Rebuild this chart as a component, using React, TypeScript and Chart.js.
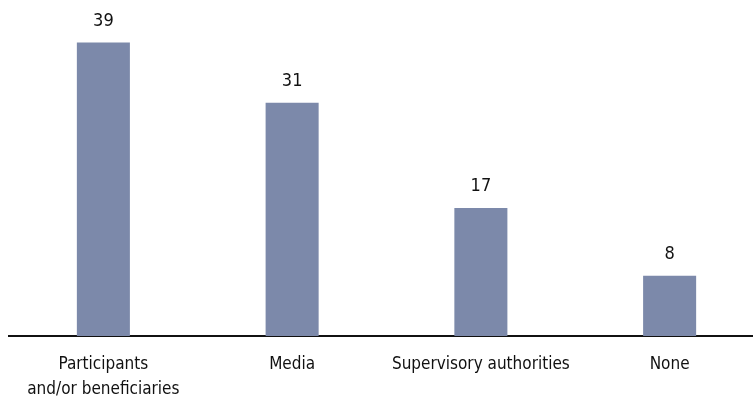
import React, { useEffect, useRef } from "react";
import { Chart, registerables } from "chart.js";

Chart.register(...registerables);

const categories: (string | string[])[] = [
  ["Participants", "and/or beneficiaries"],
  "Media",
  "Supervisory authorities",
  "None",
];
const values: number[] = [39, 31, 17, 8];

const FONT_FAMILY = "'DejaVu Sans Condensed', 'DejaVu Sans', sans-serif";
const BAR_COLOR = "#7c89aa";
const TEXT_COLOR = "#111111";

const valueLabels = {
  id: "valueLabels",
  afterDatasetsDraw(chart: any) {
    const ctx = chart.ctx;
    const meta = chart.getDatasetMeta(0);
    ctx.save();
    ctx.font = `18px ${FONT_FAMILY}`;
    ctx.fillStyle = TEXT_COLOR;
    ctx.textAlign = "center";
    ctx.textBaseline = "alphabetic";
    meta.data.forEach((bar: any, i: number) => {
      ctx.fillText(String(values[i]), bar.x, bar.y - 17);
    });
    ctx.restore();
  },
};

export default function App() {
  const ref = useRef<HTMLCanvasElement | null>(null);
  useEffect(() => {
    if (!ref.current) return;
    const chart = new Chart(ref.current, {
      type: "bar",
      data: {
        labels: categories,
        datasets: [
          {
            data: values,
            backgroundColor: BAR_COLOR,
            borderWidth: 0,
            barPercentage: 0.281,
            categoryPercentage: 1,
          },
        ],
      },
      options: {
        animation: false,
        responsive: false,
        devicePixelRatio: 1,
        layout: { padding: { left: 9, right: 0, top: 5, bottom: 0 } },
        plugins: { legend: { display: false }, tooltip: { enabled: false } },
        scales: {
          x: {
            grid: { display: false, drawTicks: false },
            border: { display: true, color: "#111111", width: 2 },
            ticks: {
              color: TEXT_COLOR,
              padding: 16.5,
              maxRotation: 0,
              autoSkip: false,
              font: { family: FONT_FAMILY, size: 17, lineHeight: "25px" },
            },
          },
          y: {
            display: false,
            min: 0,
            max: 44,
          },
        },
      },
      plugins: [valueLabels],
    });
    return () => chart.destroy();
  }, []);
  return (
    <div
      style={{
        position: "fixed",
        left: 0,
        top: 0,
        width: 753,
        height: 401,
        overflow: "hidden",
        background: "#ffffff",
      }}
    >
      <canvas ref={ref} width={764} height={419} style={{ display: "block" }} />
    </div>
  );
}
